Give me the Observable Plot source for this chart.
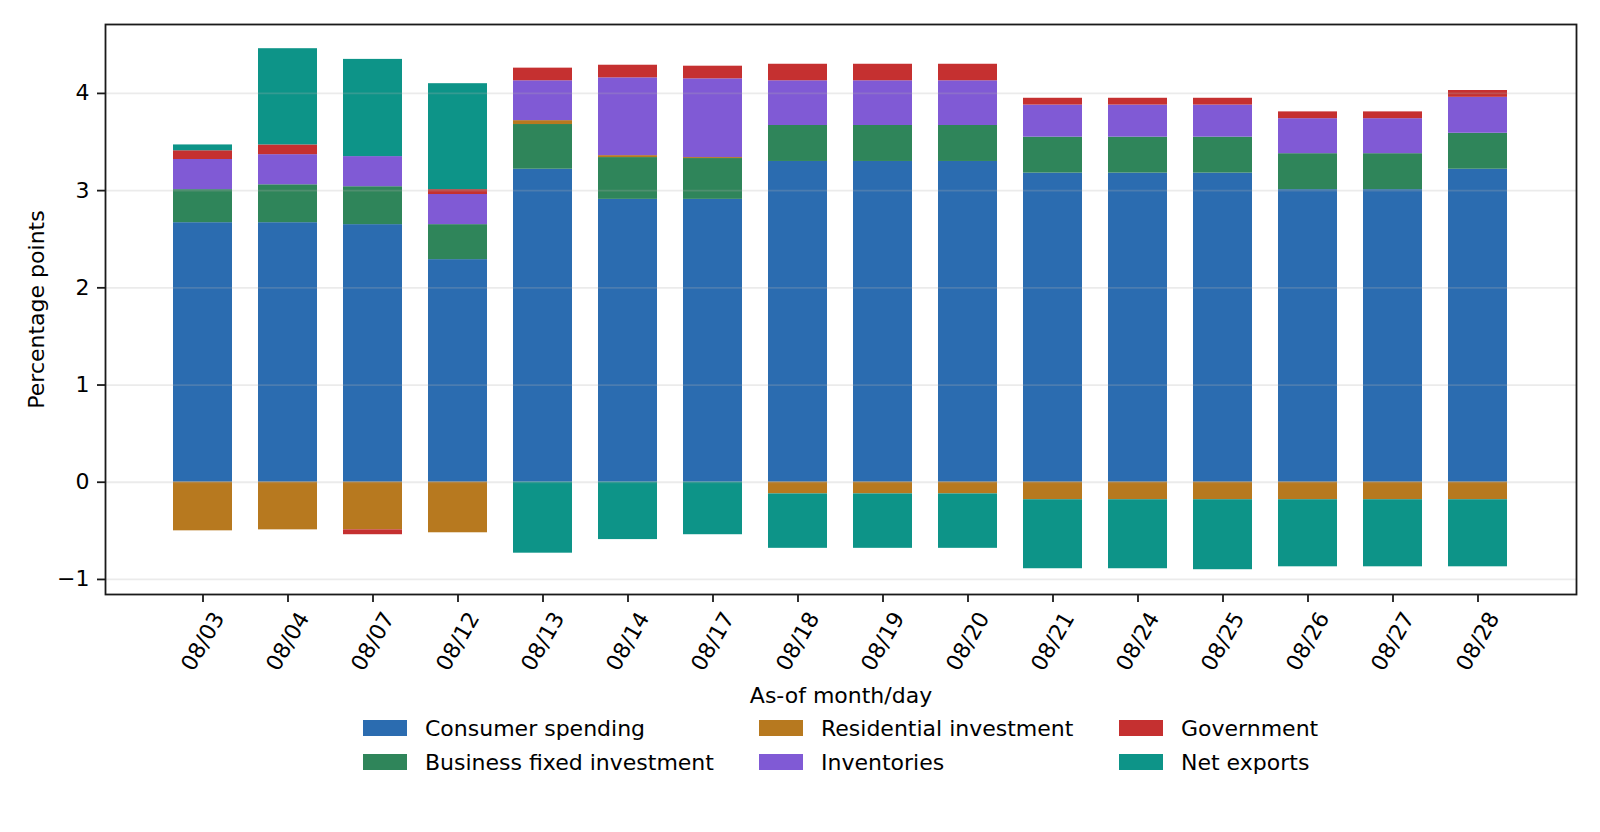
<!DOCTYPE html>
<html>
<head>
<meta charset="utf-8">
<script src="https://cdn.jsdelivr.net/npm/d3@7"></script>
<script src="https://cdn.jsdelivr.net/npm/@observablehq/plot@0.6"></script>
<style>
  html, body { margin: 0; padding: 0; background: #fff; }
  #wrap { position: relative; width: 1600px; height: 832px; font-family: "DejaVu Sans", sans-serif; }
  #chart svg { display: block; }
  .lg { position: absolute; display: flex; align-items: center; font-size: 22px; color: #000; white-space: nowrap; height: 34px; }
  .sw { width: 44px; height: 16px; margin-right: 18px; flex: none; }
</style>
</head>
<body>
<div id="wrap">
  <div id="chart"></div>
  <div id="legend"></div>
</div>
<script>
const dates = ["08/03","08/04","08/07","08/12","08/13","08/14","08/17","08/18","08/19","08/20","08/21","08/24","08/25","08/26","08/27","08/28"];
const seriesNames = ["Consumer spending","Business fixed investment","Residential investment","Inventories","Government","Net exports"];
const seriesColors = ["#2b6cb0","#2f855a","#b7791f","#805ad5","#c53030","#0d9488"];

const consumer    = [2.67,2.67,2.65,2.29,3.22,2.91,2.91,3.30,3.30,3.30,3.18,3.18,3.18,3.01,3.01,3.22];
const business    = [0.34,0.39,0.39,0.36,0.46,0.43,0.42,0.37,0.37,0.37,0.37,0.37,0.37,0.37,0.37,0.37];
const residential = [-0.50,-0.49,-0.49,-0.52,0.04,0.02,0.01,-0.12,-0.12,-0.12,-0.18,-0.18,-0.18,-0.18,-0.18,-0.18];
const inventories = [0.31,0.31,0.31,0.31,0.41,0.80,0.81,0.46,0.46,0.46,0.33,0.33,0.33,0.36,0.36,0.37];
const government  = [0.09,0.10,-0.05,0.05,0.13,0.13,0.13,0.17,0.17,0.17,0.07,0.07,0.07,0.07,0.07,0.07];
const netExports  = [0.06,0.99,1.00,1.09,-0.73,-0.59,-0.54,-0.56,-0.56,-0.56,-0.71,-0.71,-0.72,-0.69,-0.69,-0.69];

const yTicks = [-1,0,1,2,3,4];
const xLabel = "As-of month/day";
const yLabel = "Percentage points";

const seriesValues = [consumer, business, residential, inventories, government, netExports];
const rows = [];
seriesValues.forEach((vals, si) => {
  vals.forEach((v, i) => rows.push({date: dates[i], series: seriesNames[si], value: v}));
});

const chart = Plot.plot({
  width: 1600,
  height: 712,
  marginLeft: 105,
  marginRight: 24,
  marginTop: 24,
  marginBottom: 118,
  style: {fontFamily: "DejaVu Sans", fontSize: "22px", color: "#000", background: "#fff"},
  x: {type: "band", domain: dates, paddingInner: 0.3, paddingOuter: 0.7876, label: null},
  y: {domain: [-1.155, 4.709], label: null},
  color: {domain: seriesNames, range: seriesColors},
  marks: [
    Plot.barY(rows, {x: "date", y: "value", fill: "series", order: seriesNames}),
    Plot.ruleY(yTicks, {stroke: "#b0b0b0", strokeOpacity: 0.25, strokeWidth: 1.8}),
    Plot.axisY(yTicks, {tickSize: 8, tickPadding: 8, tickFormat: d3.format("d"), label: null, fontSize: 22, stroke: "#1a1a1a", strokeWidth: 1.8, fill: "#000"}),
    Plot.axisX({tickSize: 8, tickFormat: () => "", label: null, stroke: "#1a1a1a", strokeWidth: 1.8}),
    Plot.text(dates, {x: d => d, text: d => d, frameAnchor: "bottom", dy: 47, rotate: -60, textAnchor: "middle", lineAnchor: "middle", fontSize: 22, fill: "#000"}),
    Plot.text([xLabel], {text: d => d, frameAnchor: "bottom", dy: 101, textAnchor: "middle", lineAnchor: "middle", fontSize: 22, fill: "#000"}),
    Plot.text([yLabel], {text: d => d, frameAnchor: "left", dx: -69, rotate: -90, textAnchor: "middle", lineAnchor: "middle", fontSize: 22, fill: "#000"}),
    Plot.frame({stroke: "#1a1a1a", strokeWidth: 1.8})
  ]
});
document.getElementById("chart").appendChild(chart);

// Legend (below the SVG), 3 columns, column-major order
const legend = document.getElementById("legend");
const colX = [363, 759, 1119];
const rowY = [711, 745];
seriesNames.forEach((name, i) => {
  const col = Math.floor(i / 2), row = i % 2;
  const item = document.createElement("div");
  item.className = "lg";
  item.style.left = colX[col] + "px";
  item.style.top = rowY[row] + "px";
  const sw = document.createElement("span");
  sw.className = "sw";
  sw.style.background = seriesColors[i];
  const tx = document.createElement("span");
  tx.textContent = name;
  item.appendChild(sw);
  item.appendChild(tx);
  legend.appendChild(item);
});
</script>
</body>
</html>
